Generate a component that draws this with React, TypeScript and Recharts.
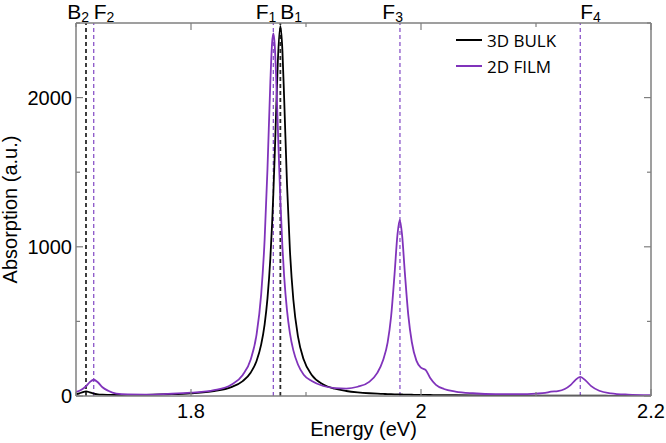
import React from "react";
import {
    LineChart,
    Line,
    XAxis,
    YAxis,
    ReferenceLine,
    Legend,
} from "recharts";

// photon energy (eV), denser around the peaks
const energy = [
    1.7, 1.703, 1.706, 1.7087, 1.712, 1.7154, 1.719, 1.723, 1.728, 1.735,
    1.745, 1.76, 1.78, 1.8, 1.82, 1.835, 1.845, 1.852, 1.857, 1.861,
    1.864, 1.8665, 1.869, 1.8705, 1.8716, 1.8728, 1.874, 1.8755, 1.8777, 1.8795,
    1.881, 1.8835, 1.886, 1.889, 1.893, 1.898, 1.905, 1.915, 1.925, 1.935,
    1.945, 1.955, 1.962, 1.967, 1.971, 1.974, 1.977, 1.9795, 1.9815, 1.9835,
    1.986, 1.989, 1.992, 1.996, 2.0, 2.004, 2.008, 2.013, 2.02, 2.03,
    2.045, 2.065, 2.085, 2.1, 2.108, 2.113, 2.119, 2.125, 2.13, 2.134,
    2.1385, 2.143, 2.148, 2.155, 2.165, 2.18, 2.2,
];

// 3D BULK absorption (a.u.)
const bulk = [
    12, 18, 26, 31, 25, 16, 11, 8.6, 7.4, 6.8,
    6.9, 8, 11.6, 18, 33, 60, 100, 158, 235, 344,
    479, 654, 923, 1151, 1356, 1616, 1900, 2238, 2480, 2313,
    1996, 1418, 978, 645, 399, 244, 141, 77.5, 48.8, 33.5,
    24.3, 18.5, 15.6, 13.9, 12.7, 11.9, 11.2, 10.7, 10.3, 9.9,
    9.5, 9.0, 8.5, 7.9, 7.4, 7.0, 6.6, 6.2, 5.6, 5.0,
    4.2, 3.4, 2.8, 2.5, 2.3, 2.2, 2.1, 2.0, 1.9, 1.9,
    1.8, 1.8, 1.7, 1.6, 1.5, 1.3, 1.2,
];

// 2D FILM absorption (a.u.)
const film = [
    27, 35, 48, 66, 93, 109, 92, 59, 35, 16,
    10, 9, 14, 22, 39, 76, 141, 247, 412, 679,
    1045, 1522, 2104, 2364, 2430, 2352, 2146, 1801, 1311, 999,
    802, 572, 422, 306, 211, 143, 100, 67, 53, 50,
    62, 95, 155, 240, 360, 533, 817, 1078, 1180, 1083,
    822, 539, 362, 237, 190, 175, 121, 75, 47, 30,
    18.5, 12, 12, 16, 21, 29, 33, 47, 73, 105,
    128, 105, 66, 35, 18, 9.6, 6,
];

const xTicks = [1.7, 1.8, 1.9, 2.0, 2.1, 2.2];
const xTickLabels = ["", "1.8", "", "2", "", "2.2"];
const yTicks = [0, 500, 1000, 1500, 2000, 2500];
const yTickLabels = ["0", "", "1000", "", "2000", ""];

// peak markers
const markerEnergy = [1.7087, 1.7154, 1.8716, 1.8777, 1.9817, 2.1385];
const markerName = ["B", "F", "F", "B", "F", "F"];
const markerSub = ["2", "2", "1", "1", "3", "4"];

const seriesNames = ["3D BULK", "2D FILM"];

const BULK_COLOR = "#000000";
const FILM_COLOR = "#8033bb";
const AXIS_COLOR = "#7f7f7f";
const FONT = "'Liberation Sans', Arial, sans-serif";
// which side of the dashed line each marker label sits on
const markerAnchor = ["end", "start", "end", "start", "end", "start"];

const data = energy.map((e, i) => ({ energy: e, bulk: bulk[i], film: film[i] }));

const BottomTick = (props: any) => {
    const { x, y, index } = props;
    const label = xTickLabels[index];
    return (
        <g>
            <line x1={x} y1={y} x2={x} y2={y - (label ? 7 : 4)} stroke={AXIS_COLOR} strokeWidth={1.2} />
            {label && (
                <text x={x} y={y + 22} textAnchor="middle" fontSize={20} style={{ fontFamily: FONT }} fill="#000">
                    {label}
                </text>
            )}
        </g>
    );
};

const TopTick = (props: any) => {
    const { x, y, index } = props;
    const label = xTickLabels[index];
    return <line x1={x} y1={y} x2={x} y2={y + (label ? 7 : 4)} stroke={AXIS_COLOR} strokeWidth={1.2} />;
};

const LeftTick = (props: any) => {
    const { x, y, index } = props;
    const label = yTickLabels[index];
    return (
        <g>
            <line x1={x} y1={y} x2={x + (label ? 7 : 4)} y2={y} stroke={AXIS_COLOR} strokeWidth={1.2} />
            {label && (
                <text x={x - 4} y={y + 7} textAnchor="end" fontSize={20} style={{ fontFamily: FONT }} fill="#000">
                    {label}
                </text>
            )}
        </g>
    );
};

const RightTick = (props: any) => {
    const { x, y, index } = props;
    const label = yTickLabels[index];
    return <line x1={x} y1={y} x2={x - (label ? 7 : 4)} y2={y} stroke={AXIS_COLOR} strokeWidth={1.2} />;
};

const xTitle = (props: any) => {
    const vb = props.viewBox || {};
    const cx = (vb.x || 0) + (vb.width || 0) / 2;
    const by = (vb.y || 0) + 40;
    return (
        <text x={cx} y={by} textAnchor="middle" fontSize={20} style={{ fontFamily: FONT }} fill="#000">
            Energy (eV)
        </text>
    );
};

const yTitle = (props: any) => {
    const vb = props.viewBox || {};
    const cx = (vb.x || 0) + 17;
    const cy = (vb.y || 0) + (vb.height || 0) / 2;
    return (
        <text
            x={cx}
            y={cy}
            textAnchor="middle"
            fontSize={20}
            style={{ fontFamily: FONT }}
            fill="#000"
            transform={`rotate(-90, ${cx}, ${cy})`}
        >
            Absorption (a.u.)
        </text>
    );
};

const markerLabel = (i: number) => (props: any) => {
    const vb = props.viewBox || {};
    const anchor = markerAnchor[i];
    const x = (vb.x || 0) + (anchor === "end" ? 3 : 0);
    const y = (vb.y || 0) - 4;
    return (
        <text x={x} y={y} textAnchor={anchor} fontSize={21} style={{ fontFamily: FONT }} fill="#000">
            <tspan>{markerName[i]}</tspan>
            <tspan fontSize={14} dy={3}>{markerSub[i]}</tspan>
        </text>
    );
};

const LegendBox = () => (
    <div style={{ fontFamily: "'Open Sans', sans-serif", fontSize: 17, color: "#000" }}>
        {seriesNames.map((name, i) => (
            <div key={name} style={{ display: "flex", alignItems: "center", height: 26 }}>
                <span
                    style={{
                        display: "inline-block",
                        width: 26,
                        height: 2,
                        background: i === 0 ? BULK_COLOR : FILM_COLOR,
                        marginRight: 5,
                    }}
                />
                {name}
            </div>
        ))}
    </div>
);

export default function App() {
    return (
        <div style={{ position: "absolute", left: 0, top: 0, width: 666, height: 443, background: "#fff" }}>
            <LineChart width={666} height={443} data={data} margin={{ top: 13, right: 5, bottom: 0, left: 0 }}>
                <XAxis
                    type="number"
                    dataKey="energy"
                    domain={[1.7, 2.2]}
                    ticks={xTicks}
                    interval={0}
                    allowDataOverflow
                    height={47}
                    tickSize={0}
                    tickMargin={0}
                    tickLine={false}
                    tick={<BottomTick />}
                    axisLine={{ stroke: AXIS_COLOR, strokeWidth: 1.5 }}
                    label={xTitle}
                />
                {/* mirrored top / right axes close the frame */}
                <XAxis
                    xAxisId="top"
                    orientation="top"
                    type="number"
                    dataKey="energy"
                    domain={[1.7, 2.2]}
                    ticks={xTicks}
                    interval={0}
                    allowDataOverflow
                    height={10}
                    tickSize={0}
                    tickMargin={0}
                    tickLine={false}
                    tick={<TopTick />}
                    axisLine={{ stroke: AXIS_COLOR, strokeWidth: 1.5 }}
                />
                <YAxis
                    type="number"
                    domain={[0, 2500]}
                    ticks={yTicks}
                    interval={0}
                    allowDataOverflow
                    width={76}
                    tickSize={0}
                    tickMargin={0}
                    tickLine={false}
                    tick={<LeftTick />}
                    axisLine={{ stroke: AXIS_COLOR, strokeWidth: 1.5 }}
                    label={yTitle}
                />
                <YAxis
                    yAxisId="right"
                    orientation="right"
                    type="number"
                    domain={[0, 2500]}
                    ticks={yTicks}
                    interval={0}
                    allowDataOverflow
                    width={10}
                    tickSize={0}
                    tickMargin={0}
                    tickLine={false}
                    tick={<RightTick />}
                    axisLine={{ stroke: AXIS_COLOR, strokeWidth: 1.5 }}
                />
                {markerEnergy.map((e, i) => (
                    <ReferenceLine
                        key={i}
                        x={e}
                        stroke={markerName[i] === "B" ? "#2a2a2a" : "#8a55c8"}
                        strokeWidth={markerName[i] === "B" ? 1.8 : 1.3}
                        strokeDasharray="4 3"
                        label={markerLabel(i)}
                    />
                ))}
                <Line
                    type="monotone"
                    dataKey="bulk"
                    name={seriesNames[0]}
                    stroke={BULK_COLOR}
                    strokeWidth={1.8}
                    dot={false}
                    isAnimationActive={false}
                />
                <Line
                    xAxisId="top"
                    yAxisId="right"
                    type="monotone"
                    dataKey="film"
                    name={seriesNames[1]}
                    stroke={FILM_COLOR}
                    strokeWidth={1.8}
                    dot={false}
                    isAnimationActive={false}
                />
                <Legend
                    layout="vertical"
                    align="center"
                    verticalAlign="middle"
                    content={<LegendBox />}
                    wrapperStyle={{ top: 27, left: 456, width: 120, bottom: "auto", right: "auto" }}
                />
            </LineChart>
        </div>
    );
}
